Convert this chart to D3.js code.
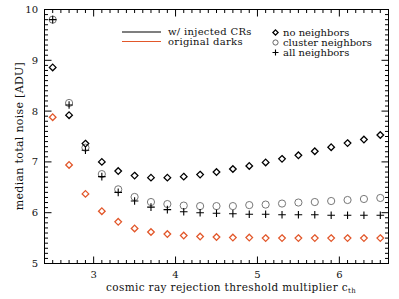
<!DOCTYPE html>
<html><head><meta charset="utf-8">
<script src="https://cdn.jsdelivr.net/npm/d3@7"></script>
<style>body{margin:0;background:#fff}text{font-family:"DejaVu Serif",serif;fill:#111;}</style>
</head><body><svg id="c" width="399" height="299"></svg>
<script>
const xs = [2.5,2.7,2.9,3.1,3.3,3.5,3.7,3.9,4.1,4.3,4.5,4.7,4.9,5.1,5.3,5.5,5.7,5.9,6.1,6.3,6.5];
const noNeighbors = [8.86,7.92,7.36,7.00,6.82,6.73,6.69,6.69,6.71,6.75,6.80,6.86,6.92,6.99,7.06,7.13,7.21,7.29,7.37,7.44,7.53];
const clusterNeighbors = [9.80,8.16,7.28,6.76,6.46,6.31,6.21,6.17,6.14,6.13,6.13,6.13,6.15,6.16,6.18,6.20,6.21,6.23,6.25,6.27,6.29];
const allNeighbors = [9.80,8.12,7.23,6.71,6.40,6.23,6.11,6.06,6.02,6.00,5.99,5.98,5.97,5.97,5.96,5.96,5.96,5.95,5.95,5.95,5.95];
const originalDarks = [7.88,6.94,6.37,6.03,5.82,5.69,5.62,5.58,5.55,5.53,5.52,5.51,5.51,5.50,5.50,5.50,5.50,5.50,5.50,5.50,5.50];
const xTicks = [3,4,5,6];
const yTicks = [5,6,7,8,9,10];
const orange = "#e2572a";

const svg = d3.select("#c");
const L=44.5, R=388.5, T=9.5, B=263.5;
const x = d3.scaleLinear().domain([2.4,6.6]).range([L,R]);
const y = d3.scaleLinear().domain([5,10]).range([B,T]);

const g = svg.append("g");
g.append("rect").attr("x",L).attr("y",T).attr("width",R-L).attr("height",B-T)
 .attr("fill","none").attr("stroke","#000").attr("stroke-width",1);

const xMinor = d3.range(25,66).map(d=>d/10);
const yMinor = d3.range(50,101).map(d=>d/10);
function isMajor(v){return Math.abs(v-Math.round(v))<1e-6;}
xMinor.forEach(v=>{
  const len = isMajor(v)?7:3.5;
  g.append("line").attr("x1",x(v)).attr("x2",x(v)).attr("y1",B).attr("y2",B-len).attr("stroke","#000");
  g.append("line").attr("x1",x(v)).attr("x2",x(v)).attr("y1",T).attr("y2",T+len).attr("stroke","#000");
});
yMinor.forEach(v=>{
  const len = isMajor(v)?7:3.5;
  g.append("line").attr("y1",y(v)).attr("y2",y(v)).attr("x1",L).attr("x2",L+len).attr("stroke","#000");
  g.append("line").attr("y1",y(v)).attr("y2",y(v)).attr("x1",R).attr("x2",R-len).attr("stroke","#000");
});
xTicks.forEach(v=>{
  g.append("text").attr("x",x(v)).attr("y",277.5).attr("text-anchor","middle").attr("font-size",10).text(v);
});
yTicks.forEach(v=>{
  g.append("text").attr("x",38).attr("y",y(v)+3.5).attr("text-anchor","end").attr("font-size",10).text(v);
});
const xl = g.append("text").attr("x",231).attr("y",291).attr("text-anchor","middle").attr("font-size",10.5).attr("letter-spacing",0.35);
xl.append("tspan").text("cosmic ray rejection threshold multiplier c");
xl.append("tspan").attr("font-size",7).attr("dy",2).text("th");
g.append("text").attr("transform","translate(23,136) rotate(-90)").attr("text-anchor","middle")
 .attr("font-size",11).attr("letter-spacing",0.3).text("median total noise [ADU]");

const diamond = (cx,cy,s)=>`M${cx},${cy-s}L${cx+s},${cy}L${cx},${cy+s}L${cx-s},${cy}Z`;
const plus = (cx,cy,s)=>`M${cx-s},${cy}H${cx+s}M${cx},${cy-s}V${cy+s}`;

g.selectAll(".cn").data(xs.map((v,i)=>[v,clusterNeighbors[i]])).enter().append("circle")
 .attr("cx",d=>x(d[0])).attr("cy",d=>y(d[1])).attr("r",3.6).attr("fill","none").attr("stroke","#777").attr("stroke-width",1);
g.selectAll(".an").data(xs.map((v,i)=>[v,allNeighbors[i]])).enter().append("path")
 .attr("d",d=>plus(x(d[0]),y(d[1]),3.8)).attr("stroke","#000").attr("stroke-width",1.1).attr("fill","none");
g.selectAll(".nn").data(xs.map((v,i)=>[v,noNeighbors[i]])).enter().append("path")
 .attr("d",d=>diamond(x(d[0]),y(d[1]),3.3)).attr("stroke","#000").attr("stroke-width",1.3).attr("fill","none");
g.selectAll(".od").data(xs.map((v,i)=>[v,originalDarks[i]])).enter().append("path")
 .attr("d",d=>diamond(x(d[0]),y(d[1]),3.3)).attr("stroke",orange).attr("stroke-width",1.3).attr("fill","none");

g.append("line").attr("x1",122).attr("x2",161).attr("y1",32).attr("y2",32).attr("stroke","#000").attr("stroke-width",1.2);
g.append("line").attr("x1",122).attr("x2",161).attr("y1",41.5).attr("y2",41.5).attr("stroke",orange).attr("stroke-width",1.2);
g.append("text").attr("x",168).attr("y",35).attr("font-size",10).attr("letter-spacing",0.3).text("w/ injected CRs");
g.append("text").attr("x",168).attr("y",44.5).attr("font-size",10).attr("letter-spacing",0.3).text("original darks");
g.append("path").attr("d",diamond(275.5,32.5,2.6)).attr("stroke","#000").attr("stroke-width",1.3).attr("fill","none");
g.append("circle").attr("cx",275.5).attr("cy",42.5).attr("r",2.6).attr("fill","none").attr("stroke","#555").attr("stroke-width",0.9);
g.append("path").attr("d",plus(275.5,52.5,3)).attr("stroke","#000").attr("stroke-width",1.1);
g.append("text").attr("x",283).attr("y",35.5).attr("font-size",10).text("no neighbors");
g.append("text").attr("x",283).attr("y",45.5).attr("font-size",10).text("cluster neighbors");
g.append("text").attr("x",283).attr("y",55.5).attr("font-size",10).text("all neighbors");
</script></body></html>
